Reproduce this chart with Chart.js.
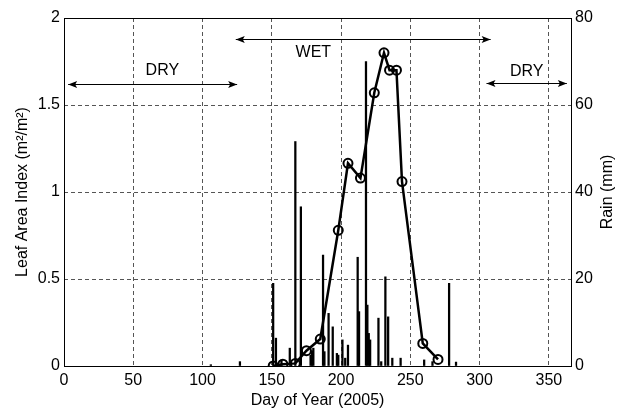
<!DOCTYPE html>
<html><head><meta charset="utf-8">
<script src="https://cdn.jsdelivr.net/npm/chart.js@4.4.1/dist/chart.umd.min.js"></script>
<style>html,body{margin:0;padding:0;background:#fff}#wrap{width:619px;height:415px;position:relative}</style>
</head><body><div id="wrap"><canvas id="c"></canvas></div>
<script>
// ---- data ----
const rainDays = [106,127,151,153,157,163,167,171,178,179,180,187,188,191,194,197,198,201,203,205,212,213,218,219,220,221,227,229,232,234,237,243,260,266,278,283];
const rainMm   = [0.3,1.0,19,6.4,1.4,4.1,51.6,36.6,2.5,3.5,4.1,25.5,3.3,12.1,9,2.9,2.5,6,1.8,4.8,25,12.5,70,14,7.5,6,11,1,20.5,11.3,1.8,1.8,1.4,1,19,0.9];
const laiDays   = [151,158,167,175,185,198,205,214,224,231,235,240,244,259,270];
const laiValues = [0,0.01,0.015,0.088,0.155,0.78,1.165,1.08,1.57,1.8,1.7,1.7,1.06,0.13,0.038];
const xTicks = [0,50,100,150,200,250,300,350];
const laiTicks = [0,0.5,1,1.5,2];
const rainTicks = [0,20,40,60,80];
const rainTitle = 'Rain (mm)';
const periodLabels = ['DRY','WET','DRY'];
const periodStartDay = [3,124,305];
const periodEndDay = [125,308,363];
const periodArrowLai = [1.62,1.88,1.625];
const periodTextDay = [71,180,334];
const periodTextLai = [1.70,1.80,1.69];

const FONT = '"Liberation Sans", Arial, Helvetica, sans-serif';
const GRID = '#555';

const overlay = {
  id: 'overlay',
  afterDraw(chart) {
    const {ctx, chartArea: a, scales} = chart;
    const x = scales.x, y = scales.y;
    ctx.save();
    ctx.strokeStyle = '#000'; ctx.lineWidth = 1;
    ctx.strokeRect(Math.round(a.left) + 0.5, Math.round(a.top) + 0.5, Math.round(a.right - a.left), Math.round(a.bottom - a.top));
    ctx.fillStyle = '#000';
    ctx.font = '16px ' + FONT;
    ctx.textAlign = 'center'; ctx.textBaseline = 'middle';
    for (let i = 0; i < periodLabels.length; i++) {
      const x1 = x.getPixelForValue(periodStartDay[i]);
      const x2 = x.getPixelForValue(periodEndDay[i]);
      const yy = Math.round(y.getPixelForValue(periodArrowLai[i])) + 0.5;
      ctx.beginPath(); ctx.moveTo(x1, yy); ctx.lineTo(x2, yy); ctx.stroke();
      const head = (tip, dir) => {
        ctx.beginPath();
        ctx.moveTo(tip, yy);
        ctx.lineTo(tip - dir * 9, yy - 3.5);
        ctx.lineTo(tip - dir * 7, yy);
        ctx.lineTo(tip - dir * 9, yy + 3.5);
        ctx.closePath(); ctx.fill();
      };
      head(x1, -1); head(x2, 1);
      ctx.fillText(periodLabels[i], x.getPixelForValue(periodTextDay[i]), y.getPixelForValue(periodTextLai[i]));
    }
    // right axis title, reading bottom-to-top like the reference
    const r = scales.y2;
    ctx.translate(r.right - 11, (a.top + a.bottom) / 2);
    ctx.rotate(-Math.PI / 2);
    ctx.fillText(rainTitle, 0, 0);
    ctx.restore();
  }
};

new Chart(document.getElementById('c'), {
  type: 'bar',
  data: {
    datasets: [
      {
        type: 'line',
        label: 'LAI',
        data: laiDays.map((d, i) => ({x: d, y: laiValues[i]})),
        yAxisID: 'y',
        borderColor: '#000',
        borderWidth: 2.5,
        pointRadius: 4.5,
        pointBorderWidth: 2,
        pointBorderColor: '#000',
        pointBackgroundColor: 'rgba(0,0,0,0)',
        tension: 0,
        order: 0
      },
      {
        type: 'bar',
        label: 'Rain',
        data: rainDays.map((d, i) => ({x: d, y: rainMm[i]})),
        yAxisID: 'y2',
        backgroundColor: '#000',
        barThickness: 1.6,
        order: 1
      }
    ]
  },
  options: {
    responsive: true,
    maintainAspectRatio: false,
    animation: false,
    layout: {padding: {top: 18, left: 0, right: 0, bottom: 0}},
    plugins: {legend: {display: false}, tooltip: {enabled: false}},
    scales: {
      x: {
        type: 'linear', min: 0, max: 366, offset: false,
        afterBuildTicks: s => { s.ticks = xTicks.map(v => ({value: v})); },
        afterFit: s => { s.height = 49; },
        grid: {color: GRID, lineWidth: 1, drawTicks: false, offset: false},
        border: {display: false, dash: [4, 3]},
        ticks: {color: '#000', font: {family: FONT, size: 16}, padding: 5, maxRotation: 0, autoSkip: false},
        title: {display: true, text: 'Day of Year (2005)', color: '#000', font: {family: FONT, size: 16}, padding: {top: 0, bottom: 5}}
      },
      y: {
        position: 'left', min: 0, max: 2,
        afterBuildTicks: s => { s.ticks = laiTicks.map(v => ({value: v})); },
        afterFit: s => { s.width = 64; },
        grid: {color: GRID, lineWidth: 1, drawTicks: false},
        border: {display: false, dash: [4, 3]},
        ticks: {color: '#000', font: {family: FONT, size: 16}, padding: 4, callback: v => String(v)},
        title: {display: true, text: 'Leaf Area Index (m\u00B2/m\u00B2)', color: '#000', font: {family: FONT, size: 16}, padding: {top: 13, bottom: 0}}
      },
      y2: {
        position: 'right', min: 0, max: 80,
        afterBuildTicks: s => { s.ticks = rainTicks.map(v => ({value: v})); },
        afterFit: s => { s.width = 48; },
        grid: {drawOnChartArea: false, drawTicks: false},
        border: {display: false},
        ticks: {color: '#000', font: {family: FONT, size: 16}, padding: 4, callback: v => String(v)},
        title: {display: false}
      }
    }
  },
  plugins: [overlay]
});
</script>
</body></html>
